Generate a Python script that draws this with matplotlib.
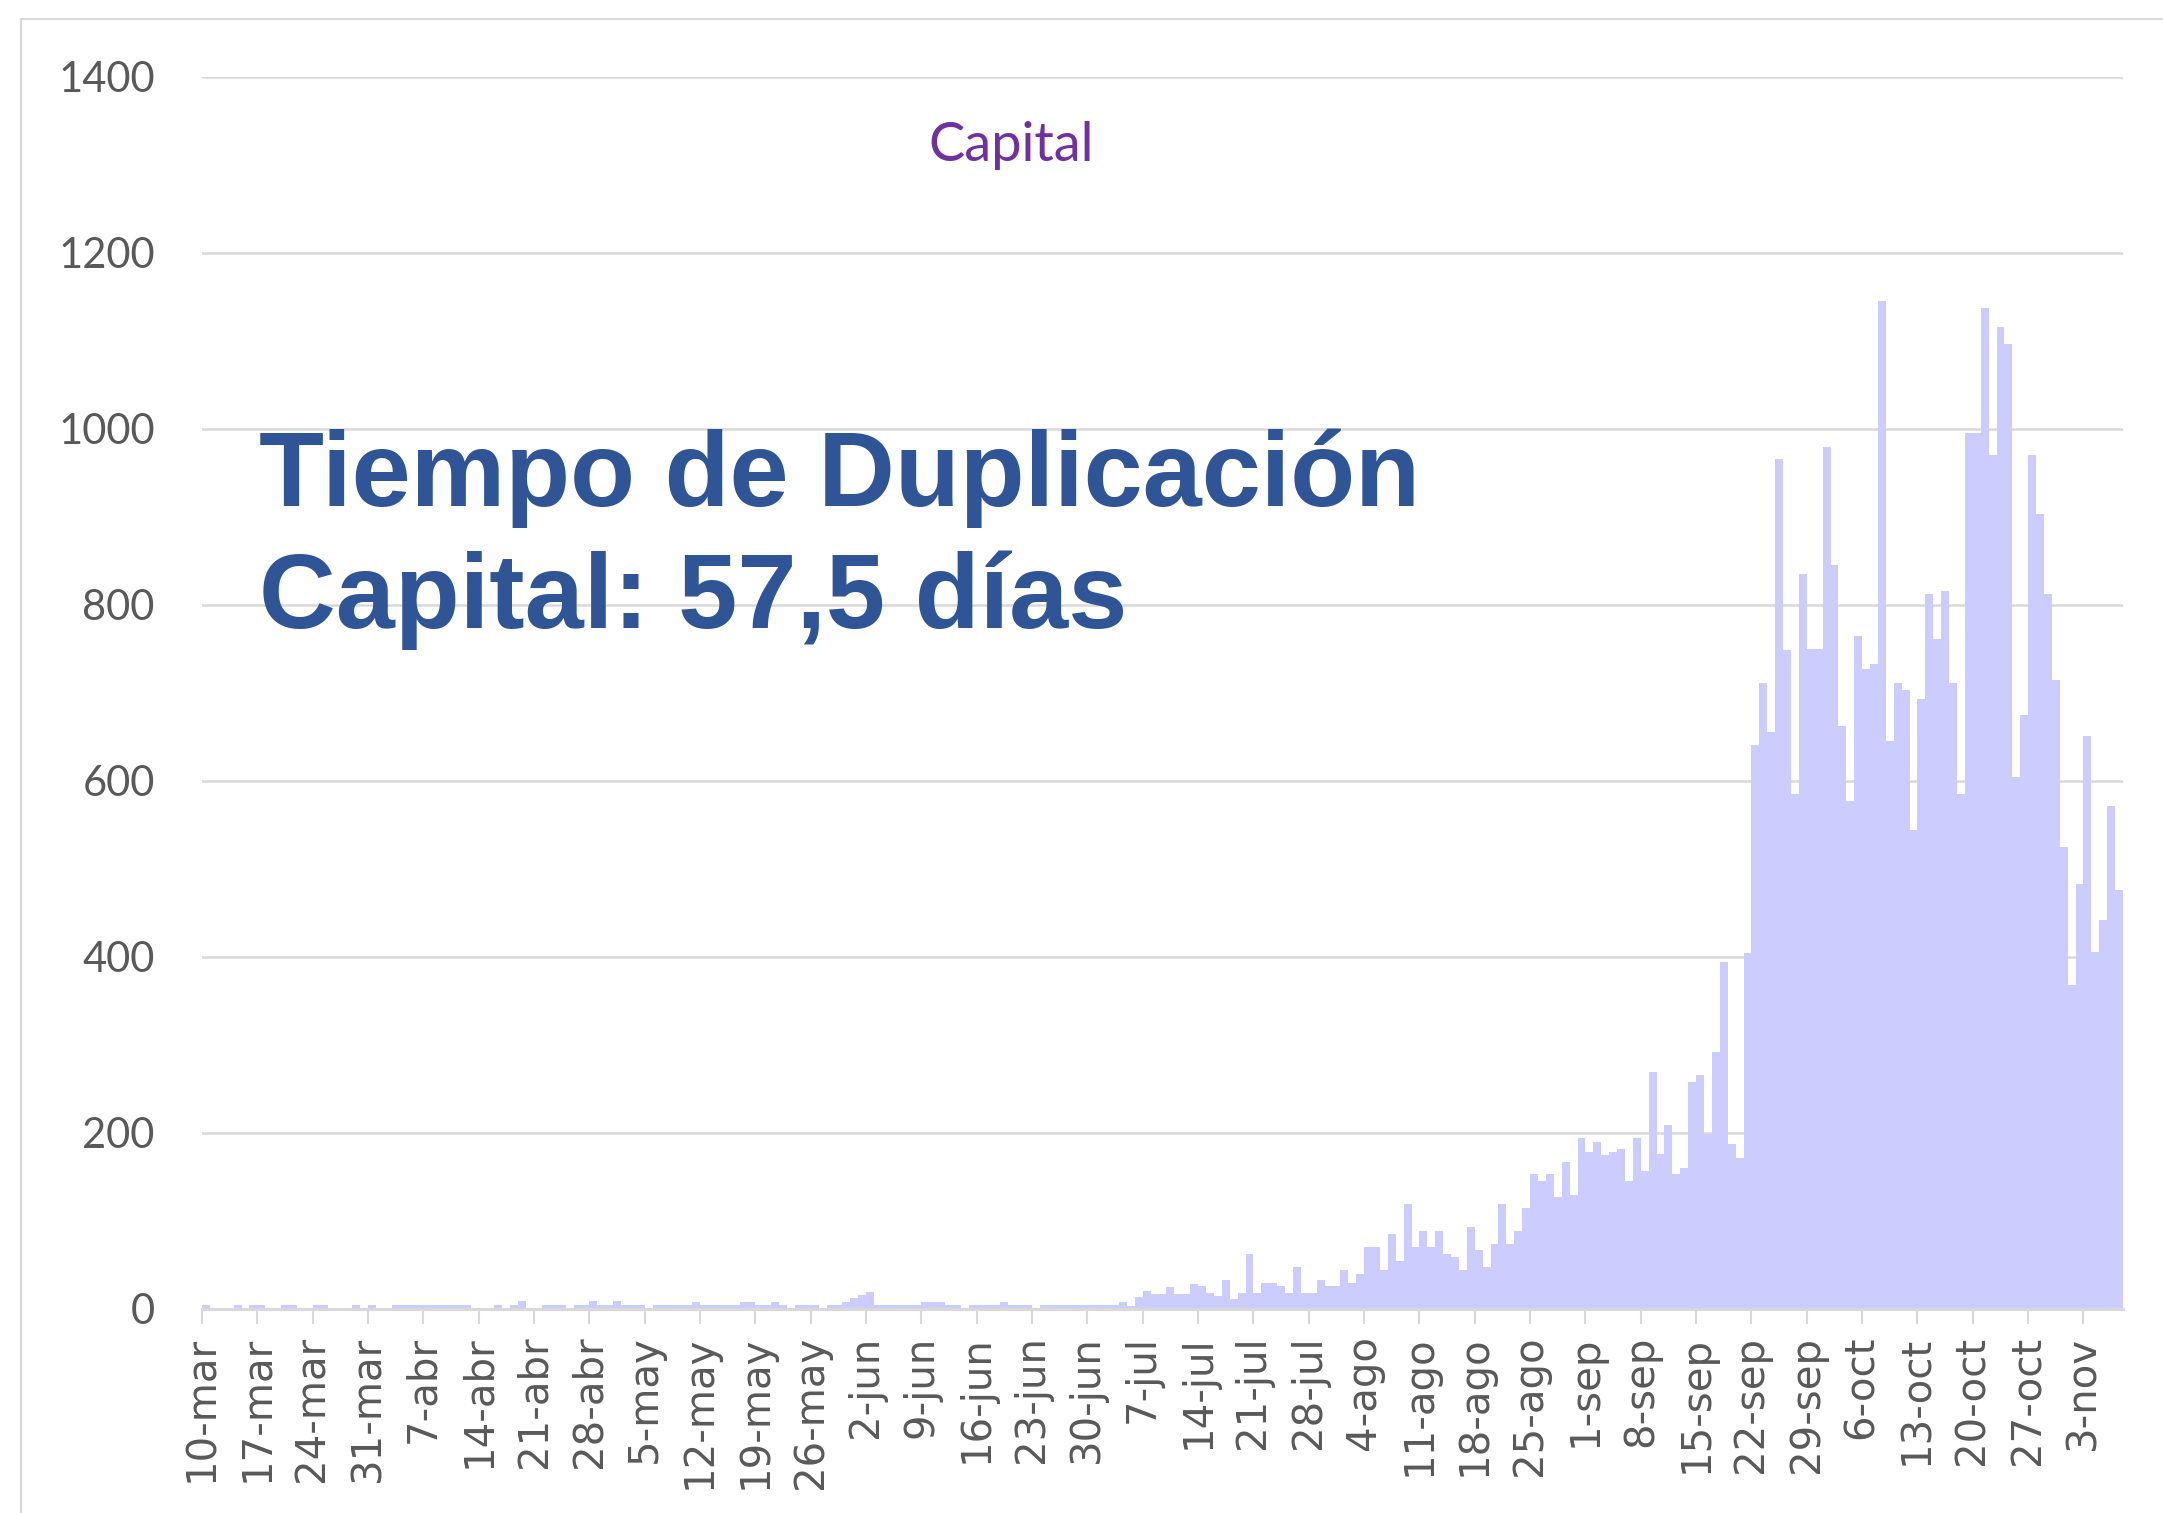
import numpy as np
import matplotlib.pyplot as plt
from matplotlib.patches import Rectangle

# Casos diarios - Capital, un valor por dia desde el 10-mar (243 dias)
casos = [
    5, 0, 0, 0, 5, 0, 5,             # 10-mar
    5, 0, 0, 5, 5, 0, 0,             # 17-mar
    5, 5, 0, 0, 0, 5, 0,             # 24-mar
    5, 0, 0, 5, 5, 5, 5,             # 31-mar
    5, 5, 5, 5, 5, 5, 0,             # 7-abr
    0, 0, 5, 0, 5, 9, 0,             # 14-abr
    0, 5, 5, 5, 0, 5, 5,             # 21-abr
    9, 5, 5, 9, 5, 5, 5,             # 28-abr
    0, 5, 5, 5, 5, 5, 8,             # 5-may
    5, 5, 5, 5, 5, 8, 8,             # 12-may
    5, 5, 8, 5, 0, 5, 5,             # 19-may
    5, 0, 5, 5, 8, 13, 16,           # 26-may
    19, 5, 5, 5, 5, 5, 5,            # 2-jun
    8, 8, 8, 5, 5, 0, 5,             # 9-jun
    5, 5, 5, 8, 5, 5, 5,             # 16-jun
    0, 5, 5, 5, 5, 5, 5,             # 23-jun
    5, 5, 5, 5, 8, 3, 14,            # 30-jun
    21, 17, 17, 25, 17, 17, 28,      # 7-jul
    26, 18, 15, 33, 11, 18, 63,      # 14-jul
    18, 29, 29, 26, 18, 48, 18,      # 21-jul
    18, 33, 26, 26, 44, 29, 40,      # 28-jul
    70, 70, 44, 85, 55, 119, 70,     # 4-ago
    89, 70, 89, 63, 59, 44, 93,      # 11-ago
    67, 48, 74, 119, 74, 89, 115,    # 18-ago
    153, 146, 153, 127, 167, 130, 194,   # 25-ago
    178, 190, 175, 178, 182, 146, 194,   # 1-sep
    157, 269, 176, 209, 153, 160, 258,   # 8-sep
    266, 199, 292, 394, 187, 172, 405,   # 15-sep
    641, 711, 656, 966, 749, 585, 835,   # 22-sep
    750, 750, 980, 846, 663, 577, 765,   # 29-sep
    727, 733, 1146, 645, 711, 703, 544,  # 6-oct
    693, 813, 761, 816, 711, 585, 996,   # 13-oct
    996, 1138, 971, 1116, 1097, 605, 675,  # 20-oct
    970, 903, 813, 715, 525, 368, 483,   # 27-oct
    651, 406, 442, 572, 476,             # 3-nov
]

etiquetas = ["10-mar", "17-mar", "24-mar", "31-mar", "7-abr", "14-abr", "21-abr",
             "28-abr", "5-may", "12-may", "19-may", "26-may", "2-jun", "9-jun",
             "16-jun", "23-jun", "30-jun", "7-jul", "14-jul", "21-jul", "28-jul",
             "4-ago", "11-ago", "18-ago", "25-ago", "1-sep", "8-sep", "15-sep",
             "22-sep", "29-sep", "6-oct", "13-oct", "20-oct", "27-oct", "3-nov"]

W, H = 2163, 1513
fig = plt.figure(figsize=(W / 100, H / 100), dpi=100)

# marco gris del grafico (se corta a la derecha y abajo)
fig.add_artist(Rectangle((21 / W, -0.05), 1.2, 1 - 19 / H + 0.05,
                         transform=fig.transFigure, fill=False,
                         edgecolor="#D9D9D9", linewidth=1.5))

ax = fig.add_axes([202 / W, 1 - 1309 / H, (2123 - 202) / W, (1309 - 77) / H])

x = np.arange(len(casos))
ax.bar(x, casos, width=1.0, color="#CCCCFF", linewidth=0, zorder=2)

ax.set_xlim(-0.5, len(casos) - 0.5)
ax.set_ylim(0, 1400)
ax.set_yticks(range(0, 1401, 200))
ax.set_axisbelow(True)
ax.yaxis.grid(True, color="#D9D9D9", linewidth=1.8)

for s in ["top", "right", "left"]:
    ax.spines[s].set_visible(False)
ax.spines["bottom"].set_color("#D9D9D9")
ax.spines["bottom"].set_linewidth(2.2)

ax.tick_params(axis="y", length=0, pad=34, labelsize=30, labelcolor="#595959")
for lab in ax.get_yticklabels():
    lab.set_fontfamily("Lato")

ax.set_xticks(np.arange(0, len(casos), 7) - 0.5)
ax.set_xticklabels(etiquetas, rotation=90, fontsize=29, color="#595959",
                   family="DejaVu Sans")
ax.tick_params(axis="x", length=11, width=1.5, color="#D9D9D9", pad=8)

fig.text(1011 / W, 1 - 161 / H, "Capital", ha="center", va="baseline",
         fontsize=39, color="#7030A0", family="Lato")
fig.text(259 / W, 1 - 506 / H, "Tiempo de Duplicación", va="baseline",
         fontsize=76.5, fontweight="bold", family="Liberation Sans", color="#2F5597")
fig.text(259 / W, 1 - 628 / H, "Capital: 57,5 días", va="baseline",
         fontsize=76.5, fontweight="bold", family="Liberation Sans", color="#2F5597")

fig.savefig("out.png", dpi=100)
